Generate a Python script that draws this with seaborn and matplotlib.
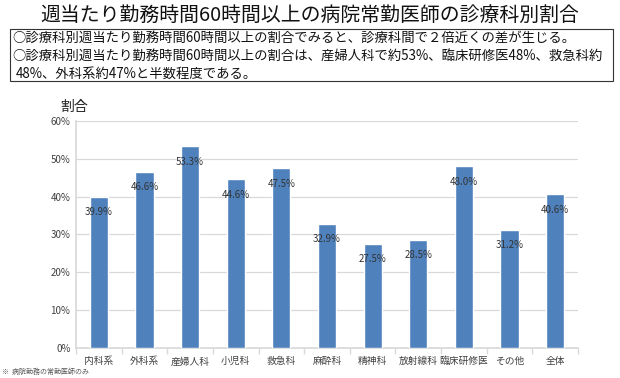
import matplotlib
matplotlib.use("Agg")
import matplotlib.pyplot as plt
import seaborn as sns
import pandas as pd
import numpy as np
from matplotlib.patches import Rectangle
from matplotlib.ticker import FixedLocator, PercentFormatter

categories = ["内科系", "外科系", "産婦人科", "小児科", "救急科", "麻酔科", "精神科", "放射線科", "臨床研修医", "その他", "全体"]
values = [39.9, 46.6, 53.3, 44.6, 47.5, 32.9, 27.5, 28.5, 48.0, 31.2, 40.6]
yticks = [0, 10, 20, 30, 40, 50, 60]

title = "週当たり勤務時間60時間以上の病院常勤医師の診療科別割合"
bullet1 = "○診療科別週当たり勤務時間60時間以上の割合でみると、診療科間で２倍近くの差が生じる。"
bullet2 = "○診療科別週当たり勤務時間60時間以上の割合は、産婦人科で約53%、臨床研修医48%、救急科約"
bullet3 = "48%、外科系約47%と半数程度である。"
footnote = "※  病院勤務の常勤医師のみ"

sns.set_theme(style="white")
plt.rcParams['font.family'] = ['Noto Sans CJK JP', 'DejaVu Sans']

df = pd.DataFrame({"cat": categories, "val": values})

fig = plt.figure(figsize=(6.2, 3.78), dpi=100)
ax = fig.add_axes([76/620, 30/378, 502/620, 227/378])

sns.barplot(data=df, x="cat", y="val", color="#4F81BD", width=0.4, saturation=1, ax=ax, zorder=3)

ax.set_ylim(0, 60)
ax.yaxis.set_major_locator(FixedLocator(yticks))
ax.yaxis.set_major_formatter(PercentFormatter(decimals=0))
ax.grid(axis="y", color="#D9D9D9", linewidth=0.9, zorder=0)
ax.set_xlim(-0.5, len(categories) - 0.5)
for s in ["top", "right"]:
    ax.spines[s].set_visible(False)
ax.spines["left"].set_color("#D9D9D9")
ax.spines["bottom"].set_color("#D9D9D9")
ax.set_xlabel("")
ax.set_ylabel("")
ax.tick_params(axis="y", labelsize=7, colors="#404040", length=0, pad=4)
ax.tick_params(axis="x", labelsize=7, colors="#404040", length=0, pad=6)
ax.set_xticks(np.arange(-0.5, len(categories), 1.0), minor=True)
ax.tick_params(axis="x", which="minor", length=4, color="#D9D9D9", bottom=True)

for i, v in enumerate(values):
    ax.annotate(f"{v:.1f}%", (i, v), xytext=(0, -11), textcoords="offset points",
                ha="center", va="center", fontsize=7, color="#333333", zorder=4)

fig.text(60/620, 1 - 107/378, "割合", fontsize=10, ha="left", va="center", color="#222222")

fig.text(0.5, 1 - 15/378, title, fontsize=14.3, ha="center", va="center", color="#111111")
fig.patches.append(Rectangle((10/620, 1 - 81/378), 603/620, 52/378, transform=fig.transFigure,
                             fill=False, edgecolor="#333333", linewidth=0.8))
fig.text(12/620, 1 - 39/378, bullet1, fontsize=9.6, ha="left", va="center", color="#111111")
fig.text(12/620, 1 - 57/378, bullet2, fontsize=9.6, ha="left", va="center", color="#111111")
fig.text(16/620, 1 - 74/378, bullet3, fontsize=9.6, ha="left", va="center", color="#111111")
fig.text(2/620, 1 - 372/378, footnote, fontsize=5, ha="left", va="center", color="#555555")

fig.savefig("out.png", dpi=100)
